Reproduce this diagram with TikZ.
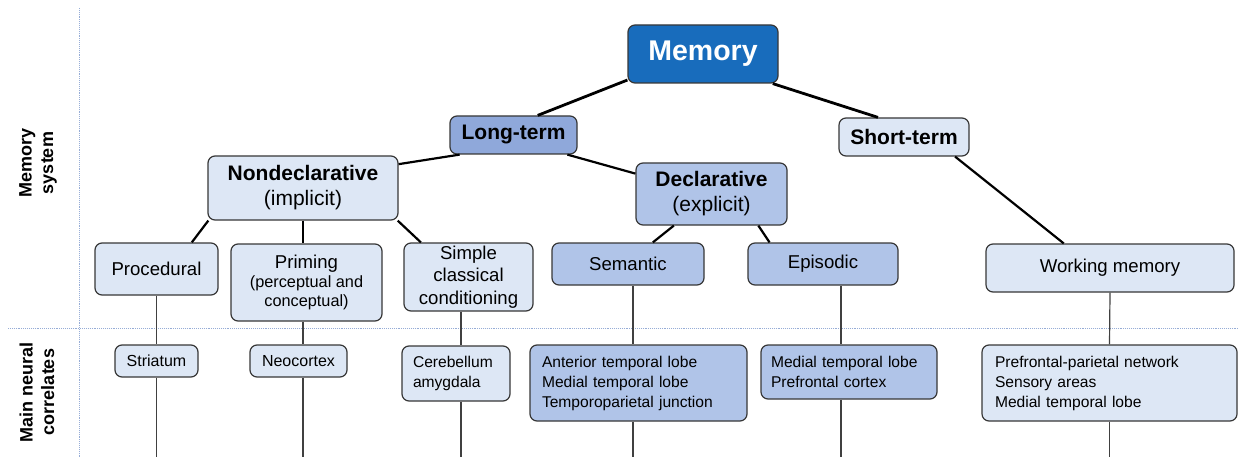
\documentclass[tikz,border=0pt]{standalone}
\usepackage{fontspec}
\setmainfont{Liberation Sans}
\usetikzlibrary{calc}
\definecolor{memblue}{RGB}{24,108,188}
\definecolor{midblue}{RGB}{143,168,218}
\definecolor{medblue}{RGB}{176,196,232}
\definecolor{lightblue}{RGB}{221,231,245}
\definecolor{sepblue}{RGB}{150,172,214}
\definecolor{bordergray}{RGB}{55,55,55}
\tikzset{
  box/.style={draw=bordergray, line width=1.2pt, rounded corners=7pt, inner sep=0pt, align=center, text=black},
  lbox/.style={box, fill=lightblue},
  mbox/.style={box, fill=medblue},
  tbox/.style={inner xsep=11pt, inner ysep=0pt, align=left, font=\fontsize{15.6}{20}\selectfont},
  midfont/.style={font=\fontsize{18.6}{22.5}\selectfont},
  bigfont/.style={font=\fontsize{21}{25}\selectfont},
  conn/.style={line width=2.8pt, black},
  subconn/.style={line width=2.2pt, black},
  vline/.style={line width=1.2pt, draw=black!75},
  sep/.style={draw=sepblue, line width=0.9pt, densely dotted},
  sidelabel/.style={rotate=90, align=center, font=\fontsize{18}{21.5}\selectfont\bfseries}
}
\newcommand{\smallprim}{\fontsize{16.3}{19}\selectfont}
\begin{document}
\begin{tikzpicture}[x=1pt, y=-1pt]
\useasboundingbox (0,0) rectangle (1239,457);
% separators
\draw[sep] (8,328) -- (1239,328);
\draw[sep] (79,8) -- (79,457);
% side labels
\node[sidelabel] (lab1) at (38,163) {Memory\\system};
\node[sidelabel] (lab2) at (37,392) {Main neural\\correlates};
% top
\node[box, fill=memblue, text=white, minimum width=150pt, minimum height=58pt, font=\fontsize{28.5}{32}\selectfont\bfseries] (mem) at (703,54) {Memory};
\node[box, fill=midblue, minimum width=127pt, minimum height=38pt, font=\fontsize{21}{25}\selectfont\bfseries] (lt) at (513.5,135) {Long-term};
\node[lbox, minimum width=130pt, minimum height=38pt, font=\fontsize{21}{25}\selectfont\bfseries] (st) at (904,137) {Short-term};
\node[lbox, bigfont, minimum width=190pt, minimum height=64pt] (nd) at (303,188) {\textbf{Nondeclarative}\\(implicit)};
\node[mbox, bigfont, minimum width=151pt, minimum height=62pt] (decl) at (711.5,194) {\textbf{Declarative}\\(explicit)};
% middle
\node[lbox, midfont, minimum width=123pt, minimum height=52pt] (proc) at (156.5,269) {Procedural};
\node[lbox, minimum width=151pt, minimum height=77pt, font=\fontsize{18.6}{19}\selectfont] (prim) at (306.5,282.5) {Priming\\\smallprim(perceptual and\\\smallprim conceptual)};
\node[lbox, midfont, minimum width=129pt, minimum height=68pt] (simp) at (468.5,277) {Simple\\classical\\conditioning};
\node[mbox, midfont, minimum width=152pt, minimum height=42pt] (sem) at (628,264) {Semantic};
\node[mbox, midfont, minimum width=150pt, minimum height=42pt] (epi) at (823,264) {Episodic};
\node[lbox, midfont, minimum width=248pt, minimum height=48pt] (wm) at (1110,268) {Working memory};
% bottom
\node[lbox, font=\fontsize{16}{20}\selectfont, minimum width=83pt, minimum height=32pt] (stri) at (156.5,361) {Striatum};
\node[lbox, font=\fontsize{16}{20}\selectfont, minimum width=97pt, minimum height=32pt] (neo) at (298.5,361) {Neocortex};
\node[lbox, tbox, text width=86pt, minimum height=55pt] (cer) at (456,373.5) {Cerebellum\\amygdala};
\node[mbox, tbox, inner xsep=12pt, text width=193pt, minimum height=76pt] (ant) at (638.5,383) {Anterior temporal lobe\\Medial temporal lobe\\Temporoparietal junction};
\node[mbox, tbox, inner xsep=10pt, text width=156pt, minimum height=54pt] (med) at (849,372) {Medial temporal lobe\\Prefrontal cortex};
\node[lbox, tbox, inner xsep=13pt, text width=229pt, minimum height=76pt] (pfp) at (1109.5,383) {Prefrontal-parietal network\\Sensory areas\\Medial temporal lobe};
% helper coordinates
\coordinate (bot) at (0,457);
\coordinate (c3) at (461,0);
\coordinate (c4) at (633,0);
\coordinate (c5) at (841,0);
% connectors
\draw[conn] (mem.199) -- (lt.39);
\draw[conn] (mem.-23) -- (st.143);
\draw[subconn] (lt.200) -- (nd.14);
\draw[subconn] (lt.-20) -- (decl.165);
\draw[subconn] (st.-21) -- (wm.152);
\draw[subconn] (nd.199.5) -- (proc.37);
\draw[subconn] (nd.south) -- (nd.south |- prim.north);
\draw[subconn] (nd.-19.6) -- (simp.144);
\draw[subconn] (decl.220) -- (sem.41);
\draw[subconn] (decl.-34) -- (epi.158.6);
% neural correlate lines
\draw[vline] (proc.south) -- (stri.north);
\draw[vline] (stri.south) -- (stri.south |- bot);
\draw[vline] (nd.south |- prim.south) -- (nd.south |- neo.north);
\draw[vline] (nd.south |- neo.south) -- (nd.south |- bot);
\draw[vline] (c3 |- simp.south) -- (c3 |- cer.north);
\draw[vline] (c3 |- cer.south) -- (c3 |- bot);
\draw[vline] (c4 |- sem.south) -- (c4 |- ant.north);
\draw[vline] (c4 |- ant.south) -- (c4 |- bot);
\draw[vline] (c5 |- epi.south) -- (c5 |- med.north);
\draw[vline] (c5 |- med.south) -- (c5 |- bot);
\draw[vline] (wm.south) -- (pfp.north);
\draw[vline] (pfp.south) -- (pfp.south |- bot);
\end{tikzpicture}
\end{document}
